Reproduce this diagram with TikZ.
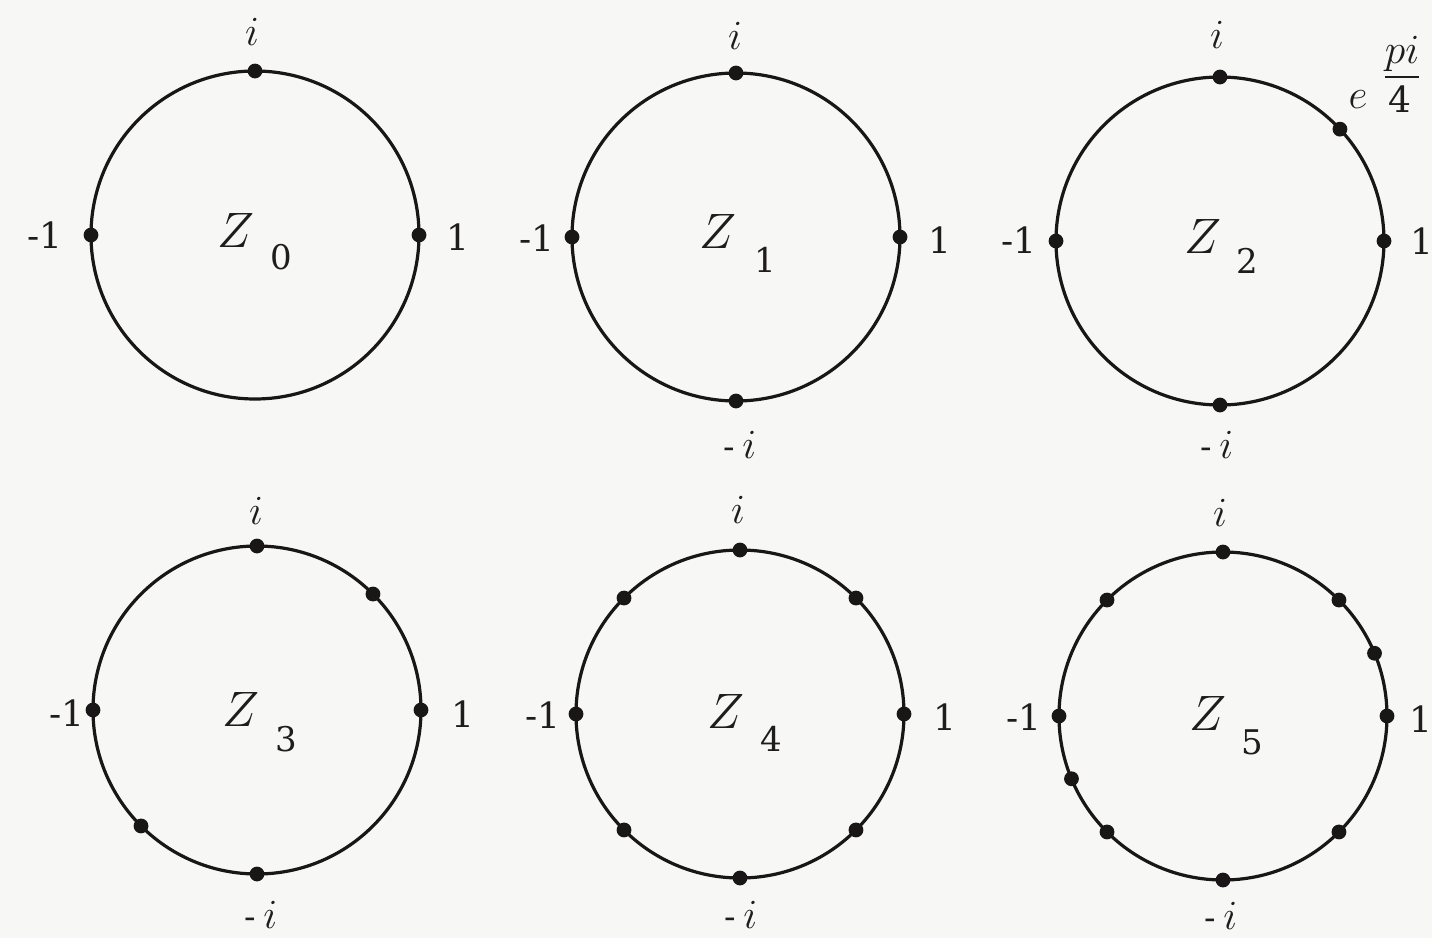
\documentclass[tikz,border=0pt]{standalone}
\usepackage{amsmath}
\usepackage{fontspec}
\newfontfamily\digitfont{DejaVu Serif}
\newcommand\mydash{{\digitfont\fontsize{17}{19}\selectfont -}}
\begin{document}
\begin{tikzpicture}[x=0.5pt,y=-0.5pt,
  ring/.style={draw=inkc, line width=1.6pt},
  lab/.style={inner sep=0pt, text=txtc, font=\digitfont\fontsize{18}{20}\selectfont},
  ilab/.style={inner sep=0pt, text=txtc, font=\fontsize{22}{24}\selectfont},
  zl/.style={inner sep=0pt, text=txtc, font=\fontsize{25}{27}\selectfont},
  zs/.style={inner sep=0pt, text=txtc, font=\digitfont\fontsize{17}{19}\selectfont}]
\definecolor{inkc}{RGB}{24,22,22}
\definecolor{txtc}{RGB}{30,28,28}
\definecolor{paper}{RGB}{247,247,245}
\fill[paper] (0,0) rectangle (1432,938);
\useasboundingbox (0,0) rectangle (1432,938);
% centres
\coordinate (c0) at (255,235);
\coordinate (c1) at (736,237);
\coordinate (c2) at (1220,241);
\coordinate (c3) at (257,710);
\coordinate (c4) at (740,714);
\coordinate (c5) at (1223,716);
\foreach \c in {c0,c1,c2,c3,c4,c5} \draw[ring] (\c) circle[radius=82pt];
% dots
\def\dotsat#1#2{\foreach \a in {#2} \fill[inkc] ([shift={(\a:82pt)}]#1) circle[radius=3.7pt];}
\dotsat{c0}{0,90,180}
\dotsat{c1}{0,90,180,270}
\dotsat{c2}{0,43,90,180,270}
\dotsat{c3}{0,45,90,180,225,270}
\dotsat{c4}{0,45,90,135,180,225,270,315}
\dotsat{c5}{0,22.5,45,90,135,180,202.5,225,270,315}
% Z0
\node[ilab] (i0) at (252,32) {$i$};
\node[lab] (m0) at (45,235) {-1};
\node[lab] (p0) at (458,237) {1};
\node[zl] (z0) at (236,230) {$Z$};
\node[zs] (s0) at (281,257) {0};
% Z1
\node[ilab] (i1) at (735,36) {$i$};
\node[lab] (m1) at (537,238) {-1};
\node[lab] (p1) at (940,240) {1};
\node[ilab] (n1) at (740,445) {\mydash\,$i$};
\node[zl] (z1) at (718,231) {$Z$};
\node[zs] (s1) at (765,260) {1};
% Z2
\node[ilab] (i2) at (1217,35) {$i$};
\node[lab] (m2) at (1019,240) {-1};
\node[lab] (p2) at (1422,241) {1};
\node[ilab] (n2) at (1217,445) {\mydash\,$i$};
\node[zl] (z2) at (1203,236) {$Z$};
\node[zs] (s2) at (1247,261) {2};
\node[ilab] (e2) at (1358,100) {$e$};
\node[ilab] (f2) at (1402,58) {$\underline{pi}$};
\node[lab] (g2) at (1400,99) {4};
% Z3
\node[ilab] (i3) at (256,511) {$i$};
\node[lab] (m3) at (67,713) {-1};
\node[lab] (p3) at (463,714) {1};
\node[ilab] (n3) at (261,915) {\mydash\,$i$};
\node[zl] (z3) at (241,709) {$Z$};
\node[zs] (s3) at (286,739) {3};
% Z4
\node[ilab] (i4) at (738,510) {$i$};
\node[lab] (m4) at (543,715) {-1};
\node[lab] (p4) at (945,717) {1};
\node[ilab] (n4) at (741,915) {\mydash\,$i$};
\node[zl] (z4) at (726,711) {$Z$};
\node[zs] (s4) at (771,739) {4};
% Z5
\node[ilab] (i5) at (1220,513) {$i$};
\node[lab] (m5) at (1024,717) {-1};
\node[lab] (p5) at (1421,719) {1};
\node[ilab] (n5) at (1221,916) {\mydash\,$i$};
\node[zl] (z5) at (1208,713) {$Z$};
\node[zs] (s5) at (1252,742) {5};
\end{tikzpicture}
\end{document}
